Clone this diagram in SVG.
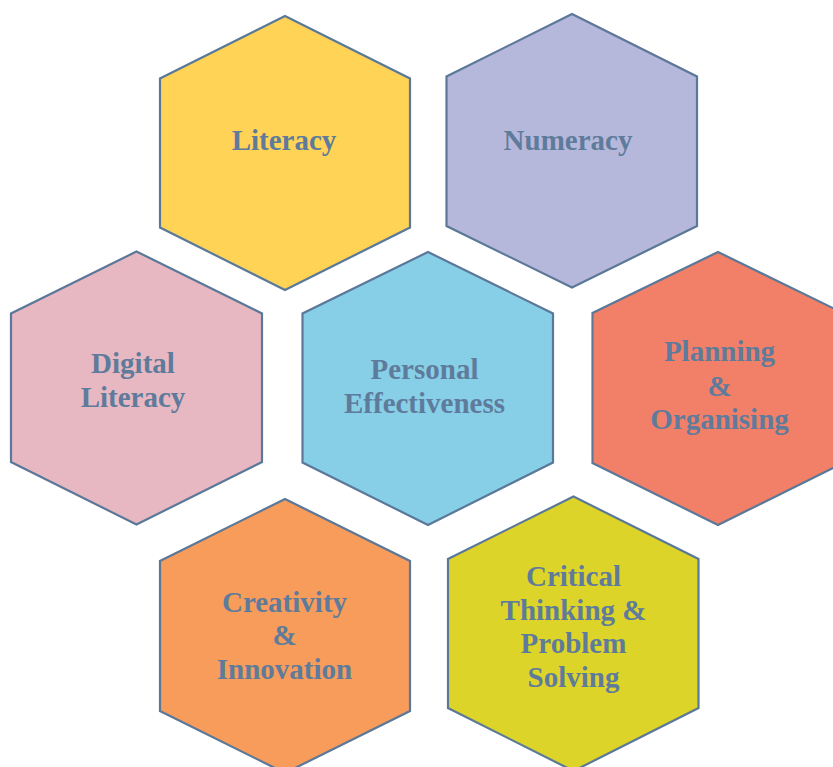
<svg xmlns="http://www.w3.org/2000/svg" width="833" height="767" viewBox="0 0 833 767">
<style>
.hex{stroke:#5b7898;stroke-width:2.2;stroke-linejoin:miter}
.t{font-family:"Liberation Serif","Times New Roman",serif;font-weight:bold;font-size:29px;fill:#5f7b9b;text-anchor:middle}
</style>
<rect width="833" height="767" fill="#ffffff"/>
<g id="literacy">
<polygon class="hex" fill="#FED356" points="285,16 410,78.5 410,227.5 285,290 160,227.5 160,78.5"/>
<text class="t" x="284" y="150">Literacy</text>
</g>
<g id="numeracy">
<polygon class="hex" fill="#B5B8DA" points="572,14 697,76.5 697,226 572,287.5 446.5,226 446.5,76.5"/>
<text class="t" x="568" y="150">Numeracy</text>
</g>
<g id="digital-literacy">
<polygon class="hex" fill="#E7B7C2" points="136.5,251.5 262,313.5 262,462 136.5,524.5 11,462 11,313.5"/>
<text class="t" x="133" y="373">Digital</text>
<text class="t" x="133" y="407">Literacy</text>
</g>
<g id="personal-effectiveness">
<polygon class="hex" fill="#87CEE7" points="428,252 553,313.5 553,462.5 428,525 302.5,462.5 302.5,313.5"/>
<text class="t" x="424.5" y="379">Personal</text>
<text class="t" x="424.5" y="413">Effectiveness</text>
</g>
<g id="planning-organising">
<polygon class="hex" fill="#F28069" points="718,252 843,313 843,463 718,525 592.5,463 592.5,313"/>
<text class="t" x="719.5" y="361">Planning</text>
<text class="t" x="719.5" y="396">&amp;</text>
<text class="t" x="719.5" y="429">Organising</text>
</g>
<g id="creativity-innovation">
<polygon class="hex" fill="#F79C5B" points="285,499 410,561 410,711 285,773 160,711 160,561"/>
<text class="t" x="284.5" y="612">Creativity</text>
<text class="t" x="284.5" y="645">&amp;</text>
<text class="t" x="284.5" y="679">Innovation</text>
</g>
<g id="critical-thinking">
<polygon class="hex" fill="#DDD42A" points="573.5,496.5 698.5,559 698.5,708 573.5,771 448,708 448,559"/>
<text class="t" x="573.5" y="586">Critical</text>
<text class="t" x="573.5" y="620">Thinking &amp;</text>
<text class="t" x="573.5" y="653">Problem</text>
<text class="t" x="573.5" y="687">Solving</text>
</g>
<g id="connectors"></g>
</svg>
